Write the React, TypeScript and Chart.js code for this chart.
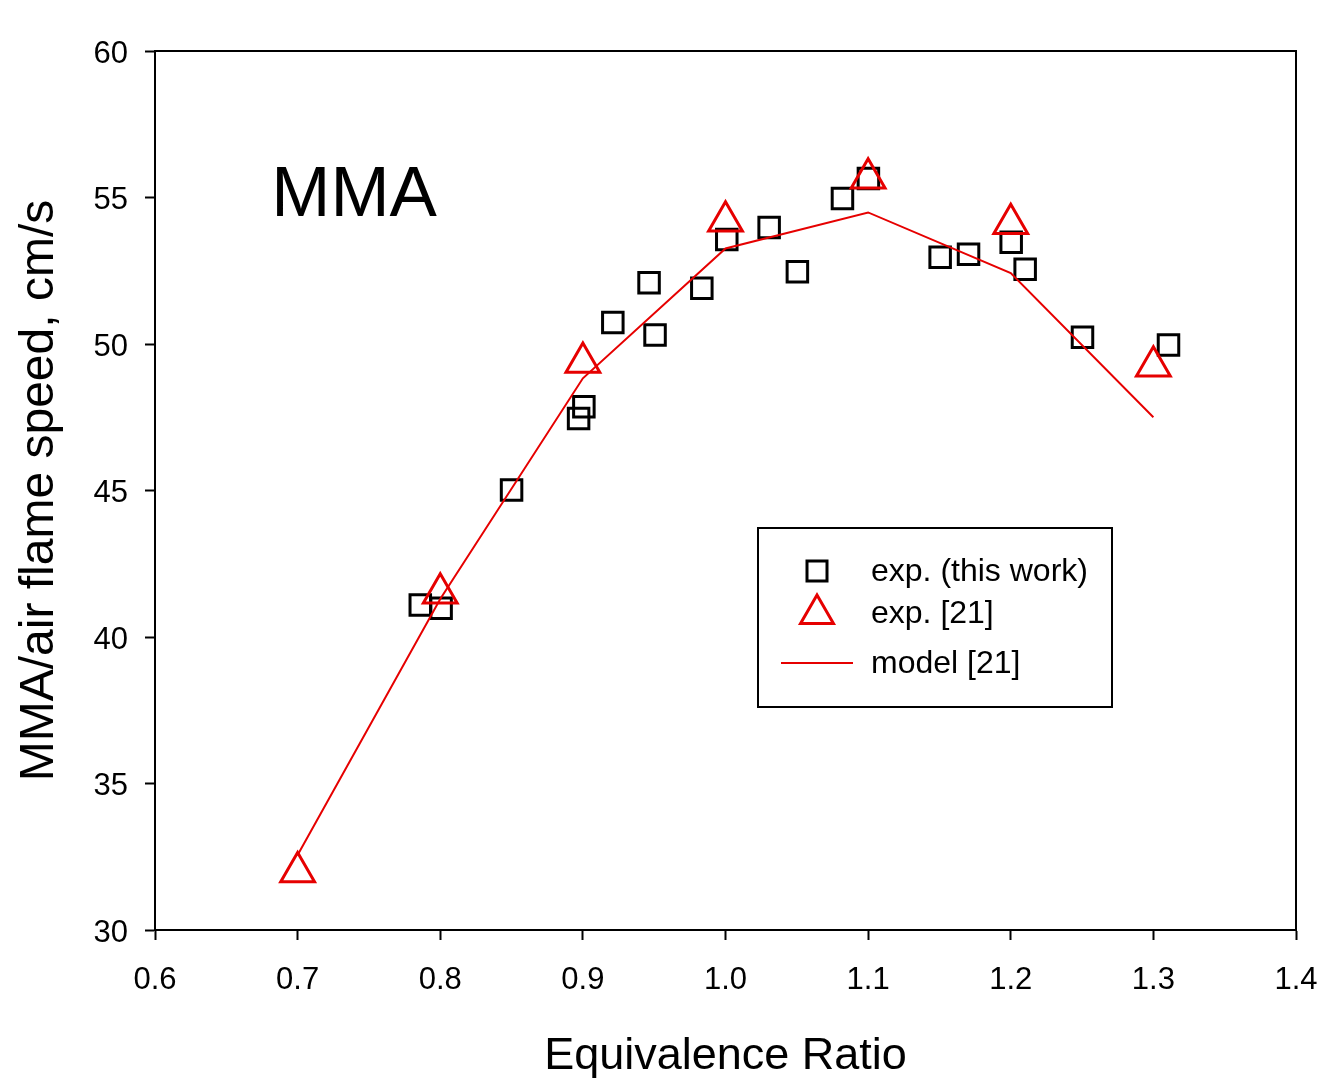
import React, { useEffect, useRef } from "react";
import { Chart, registerables } from "chart.js";

Chart.register(...registerables);

// exp. (this work)
const expThisX = [0.786, 0.8006, 0.850, 0.897, 0.9007, 0.921, 0.9464, 0.9506, 0.9834, 1.0009, 1.0306, 1.0504, 1.082, 1.1002, 1.1505, 1.1704, 1.2003, 1.2101, 1.2503, 1.3106];
const expThisY = [41.09, 40.98, 45.02, 47.46, 47.86, 50.73, 52.09, 50.31, 51.9, 53.57, 53.98, 52.47, 54.97, 55.65, 52.96, 53.06, 53.47, 52.55, 50.23, 49.97];

// exp. [21]
const exp21X = [0.7, 0.8, 0.9, 1.0, 1.1, 1.2, 1.3];
const exp21Y = [31.98, 41.49, 49.37, 54.19, 55.66, 54.1, 49.24];

// model [21]
const modelX = [0.7, 0.8, 0.9, 1.0, 1.1, 1.2, 1.3];
const modelY = [32.56, 41.3, 48.83, 53.26, 54.49, 52.42, 47.5];

const xTicks = [0.6, 0.7, 0.8, 0.9, 1.0, 1.1, 1.2, 1.3, 1.4];
const yTicks = [30, 35, 40, 45, 50, 55, 60];

const legendLabels = ["exp. (this work)", "exp. [21]", "model [21]"];
const panelLabel = "MMA";

const FONT = '"Liberation Sans", Arial, sans-serif';
const RED = "#e60000";

const zip = (xs: number[], ys: number[]) => xs.map((x, i) => ({ x, y: ys[i] }));

const framePlugin = {
  id: "frame",
  afterDraw(chart: any) {
    const { ctx, chartArea } = chart;
    ctx.save();
    ctx.strokeStyle = "#000";
    ctx.lineWidth = 2;
    ctx.strokeRect(chartArea.left, chartArea.top, chartArea.right - chartArea.left, chartArea.bottom - chartArea.top);

    // panel label
    const xs = chart.scales.x;
    const ys = chart.scales.y;
    ctx.fillStyle = "#000";
    ctx.font = `71px ${FONT}`;
    ctx.textAlign = "left";
    ctx.textBaseline = "alphabetic";
    ctx.fillText(panelLabel, xs.getPixelForValue(0.6815), ys.getPixelForValue(54.37));

    // legend
    const bx = 758, by = 528, bw = 354, bh = 179;
    ctx.fillStyle = "#fff";
    ctx.fillRect(bx, by, bw, bh);
    ctx.strokeStyle = "#000";
    ctx.lineWidth = 2;
    ctx.strokeRect(bx, by, bw, bh);

    // square
    ctx.lineWidth = 3;
    ctx.strokeStyle = "#000";
    ctx.strokeRect(817 - 10, 571 - 10, 20, 20);
    // triangle
    const r = 19;
    const tcx = 817, tcy = 614;
    ctx.strokeStyle = RED;
    ctx.beginPath();
    ctx.moveTo(tcx, tcy - r);
    ctx.lineTo(tcx + r * 0.866, tcy + r / 2);
    ctx.lineTo(tcx - r * 0.866, tcy + r / 2);
    ctx.closePath();
    ctx.stroke();
    // line
    ctx.lineWidth = 2;
    ctx.beginPath();
    ctx.moveTo(781, 663);
    ctx.lineTo(853, 663);
    ctx.stroke();

    ctx.fillStyle = "#000";
    ctx.font = `32px ${FONT}`;
    ctx.textBaseline = "middle";
    ctx.fillText(legendLabels[0], 871, 572);
    ctx.fillText(legendLabels[1], 871, 614);
    ctx.fillText(legendLabels[2], 871, 664);
    ctx.restore();
  },
};

export default function App() {
  const ref = useRef<HTMLCanvasElement | null>(null);

  useEffect(() => {
    document.body.style.margin = "0";
    const canvas = ref.current;
    if (!canvas) return;
    const chart = new Chart(canvas, {
      type: "scatter",
      data: {
        datasets: [
          {
            type: "line",
            label: legendLabels[2],
            data: zip(modelX, modelY),
            borderColor: RED,
            borderWidth: 2,
            pointRadius: 0,
            showLine: true,
            fill: false,
            tension: 0,
          } as any,
          {
            label: legendLabels[1],
            data: zip(exp21X, exp21Y),
            pointStyle: "triangle",
            pointRadius: 19.5,
            borderColor: RED,
            backgroundColor: "rgba(0,0,0,0)",
            borderWidth: 3,
          },
          {
            label: legendLabels[0],
            data: zip(expThisX, expThisY),
            pointStyle: "rect",
            pointRadius: 14.5,
            borderColor: "#000",
            backgroundColor: "rgba(0,0,0,0)",
            borderWidth: 3,
          },
        ],
      },
      options: {
        responsive: false,
        animation: false,
        layout: { padding: { top: 51, right: 28, left: 0, bottom: 0 } },
        plugins: {
          legend: { display: false },
          tooltip: { enabled: false },
        },
        scales: {
          x: {
            type: "linear",
            min: 0.6,
            max: 1.4,
            afterBuildTicks: (s: any) => {
              s.ticks = xTicks.map((v) => ({ value: v }));
            },
            afterFit: (s: any) => {
              s.height = 149;
              s.paddingLeft = 0;
              s.paddingRight = 0;
            },
            ticks: {
              color: "#000",
              font: { family: FONT, size: 31 },
              padding: 22,
              maxRotation: 0,
              autoSkip: false,
              callback: (v: any) => Number(v).toFixed(1),
            },
            grid: {
              drawOnChartArea: false,
              drawTicks: true,
              tickLength: 10,
              tickWidth: 2,
              tickColor: "#000",
            },
            border: { display: true, color: "#000", width: 2 },
            title: {
              display: true,
              text: "Equivalence Ratio",
              color: "#000",
              font: { family: FONT, size: 45, lineHeight: 1 },
              padding: { top: 0, bottom: 0 },
            },
          },
          y: {
            type: "linear",
            min: 30,
            max: 60,
            afterBuildTicks: (s: any) => {
              s.ticks = yTicks.map((v) => ({ value: v }));
            },
            afterFit: (s: any) => {
              s.width = 155;
              s.paddingTop = 0;
              s.paddingBottom = 0;
            },
            ticks: {
              color: "#000",
              font: { family: FONT, size: 31 },
              padding: 17,
              labelOffset: 3,
              autoSkip: false,
              callback: (v: any) => String(v),
            },
            grid: {
              drawOnChartArea: false,
              drawTicks: true,
              tickLength: 10,
              tickWidth: 2,
              tickColor: "#000",
            },
            border: { display: true, color: "#000", width: 2 },
            title: {
              display: true,
              text: "MMA/air flame speed, cm/s",
              color: "#000",
              font: { family: FONT, size: 48, lineHeight: 1.2 },
              padding: { top: 11, bottom: 0 },
            },
          },
        },
      },
      plugins: [framePlugin],
    } as any);
    return () => chart.destroy();
  }, []);

  return (
    <div style={{ position: "absolute", left: 0, top: 0, width: 1324, height: 1079, background: "#fff" }}>
      <canvas ref={ref} width={1324} height={1079} style={{ width: 1324, height: 1079 }} />
    </div>
  );
}
